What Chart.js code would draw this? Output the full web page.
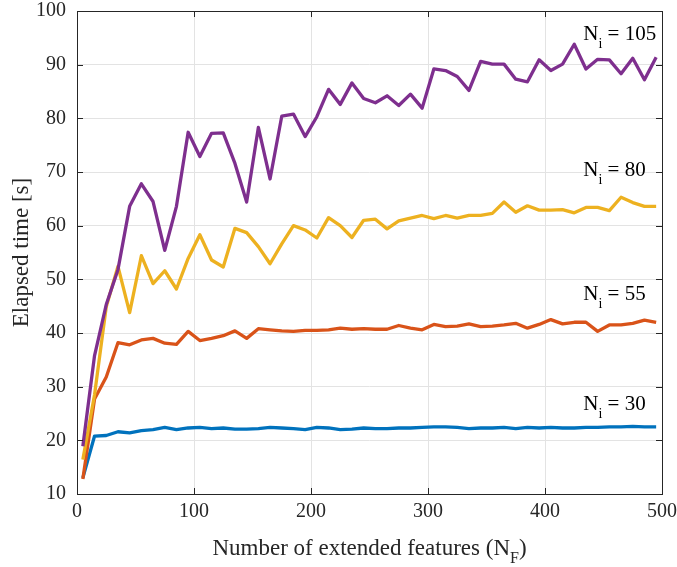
<!DOCTYPE html>
<html>
<head>
<meta charset="utf-8">
<script src="https://cdn.jsdelivr.net/npm/chart.js@4/dist/chart.umd.min.js"></script>
<style>
  html, body { margin: 0; padding: 0; background: #fff; }
  canvas { display: block; }
</style>
</head>
<body>
<canvas id="c" width="677" height="567"></canvas>
<script>
// Number of extended features (x positions of the samples)
const features = [5, 15, 25, 35, 45, 55, 65, 75, 85, 95,
  105, 115, 125, 135, 145, 155, 165, 175, 185, 195,
  205, 215, 225, 235, 245, 255, 265, 275, 285, 295,
  305, 315, 325, 335, 345, 355, 365, 375, 385, 395,
  405, 415, 425, 435, 445, 455, 465, 475, 485, 495];

// Elapsed time [s] for each number of iterations N_i
const timeNi30 = [13.0, 20.8, 20.9, 21.6, 21.4, 21.8, 22.0, 22.4, 22.0, 22.3,
  22.4, 22.2, 22.3, 22.1, 22.1, 22.2, 22.4, 22.3, 22.2, 22.0,
  22.4, 22.3, 22.0, 22.1, 22.3, 22.2, 22.2, 22.3, 22.3, 22.4,
  22.5, 22.5, 22.4, 22.2, 22.3, 22.3, 22.4, 22.2, 22.4, 22.3,
  22.4, 22.3, 22.3, 22.4, 22.4, 22.5, 22.5, 22.6, 22.5, 22.5];

const timeNi55 = [12.8, 27.7, 31.8, 38.2, 37.8, 38.7, 39.0, 38.1, 37.9, 40.3,
  38.6, 39.0, 39.5, 40.4, 39.0, 40.8, 40.6, 40.4, 40.3, 40.5,
  40.5, 40.6, 40.9, 40.7, 40.8, 40.7, 40.7, 41.4, 40.9, 40.6,
  41.6, 41.2, 41.3, 41.7, 41.2, 41.3, 41.5, 41.8, 40.9, 41.6,
  42.5, 41.7, 42.0, 42.0, 40.3, 41.5, 41.5, 41.8, 42.4, 42.0];

const timeNi80 = [16.4, 28.5, 44.9, 52.4, 43.8, 54.4, 49.2, 51.6, 48.2, 53.9,
  58.3, 53.6, 52.3, 59.5, 58.7, 56.1, 52.9, 56.6, 60.0, 59.2,
  57.7, 61.5, 60.0, 57.8, 61.0, 61.2, 59.4, 60.9, 61.4, 61.9,
  61.3, 61.9, 61.4, 61.9, 61.9, 62.3, 64.4, 62.5, 63.7, 62.9,
  62.9, 63.0, 62.4, 63.4, 63.4, 62.8, 65.3, 64.3, 63.6, 63.6];

const timeNi105 = [18.9, 35.8, 45.3, 51.8, 63.6, 67.8, 64.5, 55.4, 63.6, 77.4,
  72.9, 77.2, 77.3, 71.6, 64.4, 78.3, 68.7, 80.4, 80.8, 76.6,
  80.3, 85.4, 82.6, 86.6, 83.7, 82.9, 84.2, 82.4, 84.5, 81.9,
  89.2, 88.9, 87.8, 85.2, 90.6, 90.1, 90.1, 87.3, 86.8, 90.9,
  88.9, 90.1, 93.8, 89.2, 91.0, 90.9, 88.3, 91.2, 87.2, 91.4];

// Iteration counts shown in the in-plot labels
const iterationCounts = ['30', '55', '80', '105'];

// Axis ticks
const xTicks = [0, 100, 200, 300, 400, 500];
const yTicks = [10, 20, 30, 40, 50, 60, 70, 80, 90, 100];

const SERIF = '"Liberation Serif", "Times New Roman", serif';
const AXIS_COLOR = '#262626';

function points(values) {
  return values.map((v, i) => ({ x: features[i], y: v }));
}

const seriesValues = [timeNi30, timeNi55, timeNi80, timeNi105];
const seriesColors = ['#0072BD', '#D95319', '#EDB120', '#7E2F8E'];
// label anchor (data units): left x and text baseline y
const labelAnchors = [
  { x: 432.7, y: 25.7 },
  { x: 432.7, y: 46.1 },
  { x: 432.7, y: 69.2 },
  { x: 432.7, y: 94.6 }
];

const datasets = seriesValues.map((vals, i) => ({
  label: 'N_i = ' + iterationCounts[i],
  data: points(vals),
  borderColor: seriesColors[i],
  backgroundColor: seriesColors[i],
  borderWidth: 3.3,
  pointRadius: 0,
  tension: 0,
  fill: false,
  borderJoinStyle: 'round',
  order: seriesValues.length - i
}));

// Draws text with a subscript part: [main, sub, rest]
function drawSubText(ctx, x, y, main, sub, rest, size, subSize, subDrop) {
  ctx.font = size + 'px ' + SERIF;
  ctx.fillText(main, x, y);
  x += ctx.measureText(main).width;
  ctx.font = subSize + 'px ' + SERIF;
  ctx.fillText(sub, x, y + subDrop);
  x += ctx.measureText(sub).width;
  ctx.font = size + 'px ' + SERIF;
  ctx.fillText(rest, x, y);
}
function measureSubText(ctx, main, sub, rest, size, subSize) {
  ctx.font = size + 'px ' + SERIF;
  let w = ctx.measureText(main).width + ctx.measureText(rest).width;
  ctx.font = subSize + 'px ' + SERIF;
  w += ctx.measureText(sub).width;
  return w;
}

const frameAndText = {
  id: 'frameAndText',
  afterDatasetsDraw(chart) {
    const { ctx, chartArea: a, scales } = chart;
    ctx.save();
    // box frame
    ctx.strokeStyle = AXIS_COLOR;
    ctx.lineWidth = 1;
    ctx.strokeRect(Math.round(a.left) + 0.5, Math.round(a.top) + 0.5,
      Math.round(a.right - a.left), Math.round(a.bottom - a.top));
    // inward tick marks on all four sides
    const tl = 6;
    ctx.beginPath();
    xTicks.forEach(t => {
      const px = Math.round(scales.x.getPixelForValue(t)) + 0.5;
      ctx.moveTo(px, a.bottom); ctx.lineTo(px, a.bottom - tl);
      ctx.moveTo(px, a.top); ctx.lineTo(px, a.top + tl);
    });
    yTicks.forEach(t => {
      const py = Math.round(scales.y.getPixelForValue(t)) + 0.5;
      ctx.moveTo(a.left, py); ctx.lineTo(a.left + tl, py);
      ctx.moveTo(a.right, py); ctx.lineTo(a.right - tl, py);
    });
    ctx.stroke();

    // series labels
    ctx.fillStyle = '#000';
    ctx.textBaseline = 'alphabetic';
    ctx.textAlign = 'left';
    labelAnchors.forEach((p, i) => {
      const px = scales.x.getPixelForValue(p.x);
      const py = scales.y.getPixelForValue(p.y);
      drawSubText(ctx, px, py, 'N', 'i', ' = ' + iterationCounts[i], 21, 14, 8);
    });

    // axis titles
    ctx.fillStyle = AXIS_COLOR;
    const xt = ['Number of extended features (N', 'F', ')'];
    const wx = measureSubText(ctx, xt[0], xt[1], xt[2], 23, 16);
    const cx = (a.left + a.right) / 2;
    drawSubText(ctx, cx - wx / 2, 555, xt[0], xt[1], xt[2], 23, 16, 8);

    ctx.translate(28, (a.top + a.bottom) / 2);
    ctx.rotate(-Math.PI / 2);
    ctx.textAlign = 'center';
    ctx.font = '23px ' + SERIF;
    ctx.fillText('Elapsed time [s]', 0, 0);
    ctx.restore();
  }
};

new Chart(document.getElementById('c'), {
  type: 'line',
  data: { datasets },
  options: {
    responsive: false,
    devicePixelRatio: 1,
    animation: false,
    layout: { padding: { left: 0, right: 15, top: 11, bottom: 0 } },
    plugins: { legend: { display: false }, tooltip: { enabled: false } },
    scales: {
      x: {
        type: 'linear',
        min: 0, max: 500,
        afterBuildTicks(scale) { scale.ticks = xTicks.map(v => ({ value: v })); },
        afterFit(scale) { scale.height = 73; scale.paddingLeft = 0; scale.paddingRight = 0; },
        ticks: { font: { family: SERIF, size: 20 }, color: AXIS_COLOR, padding: 6, maxRotation: 0 },
        grid: { color: '#e3e3e3', lineWidth: 1, drawTicks: false },
        border: { display: false }
      },
      y: {
        type: 'linear',
        min: 10, max: 100,
        afterBuildTicks(scale) { scale.ticks = yTicks.map(v => ({ value: v })); },
        afterFit(scale) { scale.width = 77; scale.paddingTop = 0; scale.paddingBottom = 0; },
        ticks: { font: { family: SERIF, size: 20 }, color: AXIS_COLOR, padding: 11 },
        grid: { color: '#e3e3e3', lineWidth: 1, drawTicks: false },
        border: { display: false }
      }
    }
  },
  plugins: [frameAndText]
});
</script>
</body>
</html>
